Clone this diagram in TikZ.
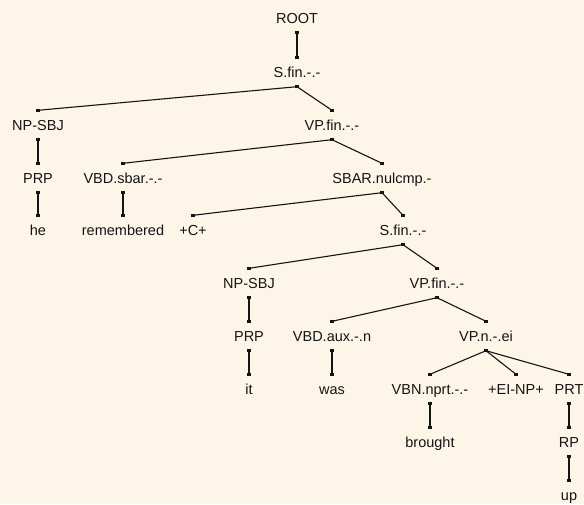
\documentclass[tikz,border=0pt]{standalone}
\usepackage{fontspec}
\setmainfont{Liberation Sans}
\usetikzlibrary{arrows.meta}
\usepackage{xcolor}
\definecolor{treebg}{RGB}{253, 246, 232}
\definecolor{treeink}{RGB}{20, 20, 20}

\begin{document}
\begin{tikzpicture}[
  x=1pt, y=-1pt,
  every node/.style={font=\fontsize{14.5}{16}\selectfont, text=treeink, inner sep=0pt, minimum height=29pt, text height=10pt, text depth=0pt},
  edge/.style={line width=1.1pt, treeink},
  dot/.style={fill=treeink}
]
  \fill[treebg] (0,0) rectangle (584,504);
  \useasboundingbox (0,0) rectangle (584,504);

  \node (root)       at (297, 18)  {ROOT};
  \node (sfin)       at (297, 72)  {S.fin.-.-};
  \node (npsbj)      at (38, 125)  {NP-SBJ};
  \node (vpfin)      at (332, 125) {VP.fin.-.-};
  \node (prp)        at (38, 178)  {PRP};
  \node (vbdsbar)    at (123, 178) {VBD.sbar.-.-};
  \node (sbar)       at (382, 178) {SBAR.nulcmp.-};
  \node (he)         at (38, 230)  {he};
  \node (remembered) at (123, 230) {remembered};
  \node (comp)       at (193, 230) {+C+};
  \node (sfinb)      at (403, 230) {S.fin.-.-};
  \node (npsbjb)     at (249, 283) {NP-SBJ};
  \node (vpfinb)     at (437, 283) {VP.fin.-.-};
  \node (prpb)       at (249, 336) {PRP};
  \node (vbdaux)     at (332, 336) {VBD.aux.-.n};
  \node (vpn)        at (486, 336) {VP.n.-.ei};
  \node (it)         at (249, 389) {it};
  \node (was)        at (332, 389) {was};
  \node (vbn)        at (430, 389) {VBN.nprt.-.-};
  \node (einp)       at (516, 389) {+EI-NP+};
  \node (prt)        at (569, 389) {PRT};
  \node (brought)    at (430, 442) {brought};
  \node (rp)         at (569, 442) {RP};
  \node (up)         at (569, 495) {up};

  % connectors, each with a small square at both ends
  \foreach \a/\b in {root/sfin, sfin/npsbj, sfin/vpfin, npsbj/prp, prp/he,
      vpfin/vbdsbar, vpfin/sbar, vbdsbar/remembered, sbar/comp, sbar/sfinb,
      sfinb/npsbjb, sfinb/vpfinb, npsbjb/prpb, prpb/it, vpfinb/vbdaux,
      vpfinb/vpn, vbdaux/was, vpn/vbn, vpn/einp, vpn/prt, vbn/brought,
      prt/rp, rp/up} {
    \draw[edge] (\a.south) -- (\b.north);
    \fill[dot] (\a.south) +(-1.6,-1.6) rectangle +(1.6,1.6);
    \fill[dot] (\b.north) +(-1.6,-1.6) rectangle +(1.6,1.6);
  }
\end{tikzpicture}
\end{document}
